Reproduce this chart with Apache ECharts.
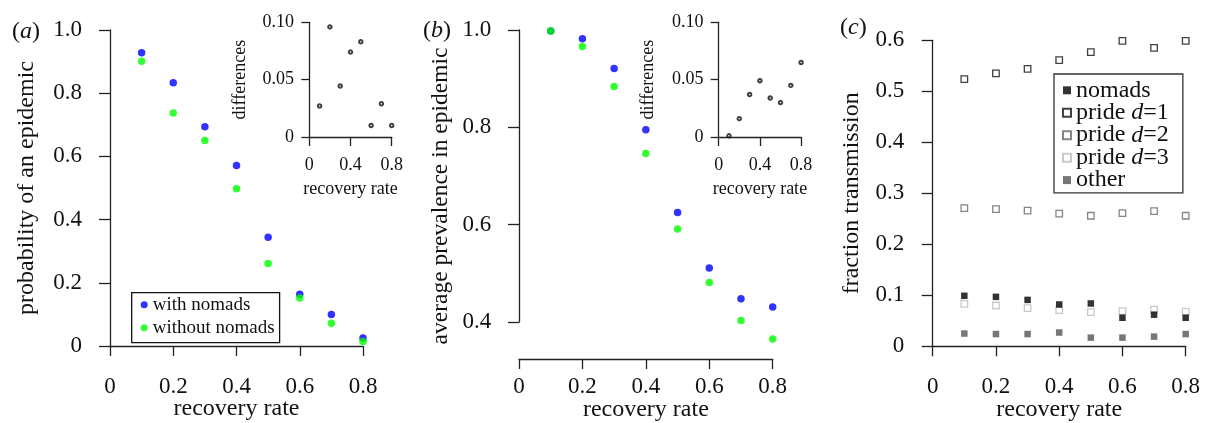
<!DOCTYPE html>
<html>
<head>
<meta charset="utf-8">
<script src="https://cdn.jsdelivr.net/npm/echarts@6/dist/echarts.min.js"></script>
<style>
html,body{margin:0;padding:0;background:#fff;}
#chart{width:1205px;height:423px;}
</style>
</head>
<body>
<div id="chart"></div>
<script>
// ---- data ----
const recovery = [0.1, 0.2, 0.3, 0.4, 0.5, 0.6, 0.7, 0.8];
const probWith = [0.928, 0.833, 0.694, 0.571, 0.344, 0.164, 0.100, 0.025];
const probWithout = [0.901, 0.737, 0.650, 0.498, 0.261, 0.152, 0.072, 0.014];
const probDiff = [0.027, 0.096, 0.0445, 0.074, 0.083, 0.010, 0.029, 0.010];
const prevWith = [0.998, 0.982, 0.921, 0.795, 0.625, 0.511, 0.448, 0.431];
const prevWithout = [0.998, 0.966, 0.884, 0.746, 0.591, 0.481, 0.403, 0.365];
const prevDiff = [0.001, 0.016, 0.037, 0.049, 0.034, 0.030, 0.045, 0.065];
const fracNomads = [0.099, 0.097, 0.091, 0.082, 0.084, 0.056, 0.062, 0.056];
const fracPride1 = [0.524, 0.535, 0.544, 0.561, 0.577, 0.599, 0.585, 0.599];
const fracPride2 = [0.271, 0.269, 0.266, 0.260, 0.256, 0.261, 0.265, 0.256];
const fracPride3 = [0.083, 0.080, 0.075, 0.071, 0.067, 0.069, 0.072, 0.068];
const fracOther = [0.025, 0.024, 0.024, 0.027, 0.017, 0.017, 0.019, 0.024];
const mainXTicks = {min: 0, max: 0.8, interval: 0.2};
const insetXTicks = {min: 0, max: 0.8, interval: 0.4};
const insetYTicks = {min: 0, max: 0.1, interval: 0.05};

const FONT = 'Liberation Serif';
const AX = '#222';
const pts = arr => recovery.map((x, i) => [x, arr[i]]);
const fmt1 = v => (Math.abs(v) < 1e-9 ? '0' : v.toFixed(1));
const fmt2 = v => (Math.abs(v) < 1e-9 ? '0' : v.toFixed(2));

function xAx(grid, ticks, opts) {
  return Object.assign({
    type: 'value', gridIndex: grid, min: ticks.min, max: ticks.max, interval: ticks.interval,
    position: 'bottom',
    axisLine: {show: true, lineStyle: {color: AX, width: 1.3}},
    axisTick: {show: true, inside: false, length: 10, lineStyle: {color: AX, width: 1.3}},
    splitLine: {show: false},
    nameLocation: 'middle',
    nameMoveOverlap: false,
    nameTextStyle: {fontFamily: FONT, color: '#111'}
  }, opts);
}
function yAx(grid, opts) {
  return Object.assign({
    type: 'value', gridIndex: grid, position: 'left',
    axisLine: {show: true, lineStyle: {color: AX, width: 1.3}},
    axisTick: {show: true, inside: false, length: 11, lineStyle: {color: AX, width: 1.3}},
    splitLine: {show: false},
    nameLocation: 'middle',
    nameMoveOverlap: false,
    nameTextStyle: {fontFamily: FONT, color: '#111'}
  }, opts);
}
const mainLabelX = {fontFamily: FONT, fontSize: 23, color: '#111', margin: 16, formatter: fmt1};
const mainLabelY = {fontFamily: FONT, fontSize: 23, color: '#111', margin: 18, formatter: fmt1};
const insetLabelX = {fontFamily: FONT, fontSize: 18, color: '#111', margin: 15, formatter: fmt1};
const insetLabelY = {fontFamily: FONT, fontSize: 18, color: '#111', margin: 12, formatter: fmt2};
const G = {outerBoundsMode: 'none', containLabel: false};

const option = {
  backgroundColor: '#fff',
  animation: false,
  grid: [
    Object.assign({left: 110, top: 30, width: 253, height: 316}, G),
    Object.assign({left: 309.3, top: 22.3, width: 82.4, height: 114.7}, G),
    Object.assign({left: 519, top: 30, width: 253.7, height: 292}, G),
    Object.assign({left: 718.7, top: 22.3, width: 82.4, height: 114.7}, G),
    Object.assign({left: 932.7, top: 40.3, width: 253, height: 306}, G)
  ],
  xAxis: [
    xAx(0, mainXTicks, {offset: 13, axisLabel: mainLabelX, name: 'recovery rate', nameGap: 38,
      nameTextStyle: {fontFamily: FONT, fontSize: 24, color: '#111'}}),
    xAx(1, insetXTicks, {offset: 4.5, axisTick: {length: 9, lineStyle: {color: AX, width: 1.3}}, axisLabel: insetLabelX,
      name: 'recovery rate', nameGap: 39, nameTextStyle: {fontFamily: FONT, fontSize: 18, color: '#111'}}),
    xAx(2, mainXTicks, {offset: 37, axisLabel: mainLabelX, name: 'recovery rate', nameGap: 39,
      nameTextStyle: {fontFamily: FONT, fontSize: 24, color: '#111'}}),
    xAx(3, insetXTicks, {offset: 4.5, axisTick: {length: 9, lineStyle: {color: AX, width: 1.3}}, axisLabel: insetLabelX,
      name: 'recovery rate', nameGap: 39, nameTextStyle: {fontFamily: FONT, fontSize: 18, color: '#111'}}),
    xAx(4, mainXTicks, {offset: 12.7, axisLabel: mainLabelX, name: 'recovery rate', nameGap: 39,
      nameTextStyle: {fontFamily: FONT, fontSize: 24, color: '#111'}})
  ],
  yAxis: [
    yAx(0, {min: 0, max: 1, interval: 0.2, offset: 10, axisLabel: mainLabelY,
      name: 'probability of an epidemic', nameGap: 61, nameTextStyle: {fontFamily: FONT, fontSize: 24, color: '#111'}}),
    yAx(1, {min: insetYTicks.min, max: insetYTicks.max, interval: insetYTicks.interval, offset: 3.3,
      axisTick: {length: 8, lineStyle: {color: AX, width: 1.3}}, axisLabel: insetLabelY,
      name: 'differences', nameGap: 57, nameTextStyle: {fontFamily: FONT, fontSize: 18, color: '#111'}}),
    yAx(2, {min: 0.4, max: 1.0, interval: 0.2, offset: 9.7, axisLabel: mainLabelY,
      name: 'average prevalence in epidemic', nameGap: 56,
      nameTextStyle: {fontFamily: FONT, fontSize: 23.5, color: '#111', padding: [0, 40, 0, 0]}}),
    yAx(3, {min: insetYTicks.min, max: insetYTicks.max, interval: insetYTicks.interval, offset: 3.3,
      axisTick: {length: 8, lineStyle: {color: AX, width: 1.3}}, axisLabel: insetLabelY,
      name: 'differences', nameGap: 58, nameTextStyle: {fontFamily: FONT, fontSize: 18, color: '#111'}}),
    yAx(4, {min: 0, max: 0.6, interval: 0.1, offset: 10.4, axisLabel: mainLabelY,
      name: 'fraction transmission', nameGap: 59, nameTextStyle: {fontFamily: FONT, fontSize: 24, color: '#111'}})
  ],
  legend: [
    {
      orient: 'vertical', left: 131.7, top: 292.7,
      data: ['with nomads', 'without nomads'],
      icon: 'circle', itemWidth: 7, itemHeight: 7, itemGap: 3,
      padding: [2, 5, 5, 9],
      borderColor: '#111', borderWidth: 1.3, selectedMode: false,
      textStyle: {fontFamily: FONT, fontSize: 19, color: '#111', lineHeight: 20}
    },
    {
      orient: 'vertical', left: 1054, top: 74,
      data: ['nomads', 'pride d=1', 'pride d=2', 'pride d=3', 'other'],
      icon: 'rect', itemWidth: 8, itemHeight: 8, itemGap: -1.55,
      padding: [4.3, 14, 0.7, 8],
      borderColor: '#333', borderWidth: 1.3, selectedMode: false,
      formatter: function (n) {
        const m = n.match(/^pride d=(\d)$/);
        if (m) return '{n|pride }{i|d}{n|=' + m[1] + '}';
        return '{n|' + n + '}';
      },
      textStyle: {fontFamily: FONT, fontSize: 24, color: '#111', lineHeight: 20,
        rich: {n: {fontFamily: FONT, fontSize: 24, color: '#111', lineHeight: 20},
               i: {fontFamily: FONT, fontSize: 24, fontStyle: 'italic', color: '#111', lineHeight: 20}}}
    }
  ],
  graphic: [
    {type: 'text', left: 12, top: 20, style: {text: '{n|(}{i|a}{n|)}', rich: {
      n: {fontFamily: FONT, fontSize: 24, fill: '#111'}, i: {fontFamily: FONT, fontSize: 24, fontStyle: 'italic', fill: '#111'}}}},
    {type: 'text', left: 423, top: 19, style: {text: '{n|(}{i|b}{n|)}', rich: {
      n: {fontFamily: FONT, fontSize: 24, fill: '#111'}, i: {fontFamily: FONT, fontSize: 24, fontStyle: 'italic', fill: '#111'}}}},
    {type: 'text', left: 840, top: 16, style: {text: '{n|(}{i|c}{n|)}', rich: {
      n: {fontFamily: FONT, fontSize: 24, fill: '#111'}, i: {fontFamily: FONT, fontSize: 24, fontStyle: 'italic', fill: '#111'}}}}
  ],
  series: [
    {name: 'with nomads', type: 'scatter', xAxisIndex: 0, yAxisIndex: 0, data: pts(probWith),
      symbol: 'circle', symbolSize: 7.5, itemStyle: {color: '#0000ff'}, clip: false},
    {name: 'without nomads', type: 'scatter', xAxisIndex: 0, yAxisIndex: 0, data: pts(probWithout),
      symbol: 'circle', symbolSize: 7.5, itemStyle: {color: '#00ff00'}, clip: false},
    {name: 'diff a', type: 'scatter', xAxisIndex: 1, yAxisIndex: 1, data: pts(probDiff),
      symbol: 'emptyCircle', symbolSize: 3.5, itemStyle: {color: '#111', borderWidth: 1.2}, clip: false},
    {name: 'with nomads', type: 'scatter', xAxisIndex: 2, yAxisIndex: 2, data: pts(prevWith),
      symbol: 'circle', symbolSize: 7.5, itemStyle: {color: '#0000ff'}, clip: false},
    {name: 'without nomads', type: 'scatter', xAxisIndex: 2, yAxisIndex: 2, data: pts(prevWithout),
      symbol: 'circle', symbolSize: 7.5, itemStyle: {color: '#00ff00'}, clip: false},
    {name: 'diff b', type: 'scatter', xAxisIndex: 3, yAxisIndex: 3, data: pts(prevDiff),
      symbol: 'emptyCircle', symbolSize: 3.5, itemStyle: {color: '#111', borderWidth: 1.2}, clip: false},
    {name: 'pride d=1', type: 'scatter', xAxisIndex: 4, yAxisIndex: 4, data: pts(fracPride1),
      symbol: 'rect', symbolSize: 6.5, itemStyle: {color: '#fff', borderColor: '#111', borderWidth: 1.3}, clip: false},
    {name: 'pride d=2', type: 'scatter', xAxisIndex: 4, yAxisIndex: 4, data: pts(fracPride2),
      symbol: 'rect', symbolSize: 6.5, itemStyle: {color: '#fff', borderColor: '#666', borderWidth: 1.3}, clip: false},
    {name: 'pride d=3', type: 'scatter', xAxisIndex: 4, yAxisIndex: 4, data: pts(fracPride3),
      symbol: 'rect', symbolSize: 6.5, itemStyle: {color: '#fff', borderColor: '#bbb', borderWidth: 1.3}, clip: false},
    {name: 'nomads', type: 'scatter', xAxisIndex: 4, yAxisIndex: 4, data: pts(fracNomads),
      symbol: 'rect', symbolSize: 6.5, itemStyle: {color: '#000'}, clip: false},
    {name: 'other', type: 'scatter', xAxisIndex: 4, yAxisIndex: 4, data: pts(fracOther),
      symbol: 'rect', symbolSize: 6.5, itemStyle: {color: '#555'}, clip: false}
  ]
};
const chart = echarts.init(document.getElementById('chart'), null, {renderer: 'canvas'});
chart.setOption(option);
</script>
</body>
</html>
